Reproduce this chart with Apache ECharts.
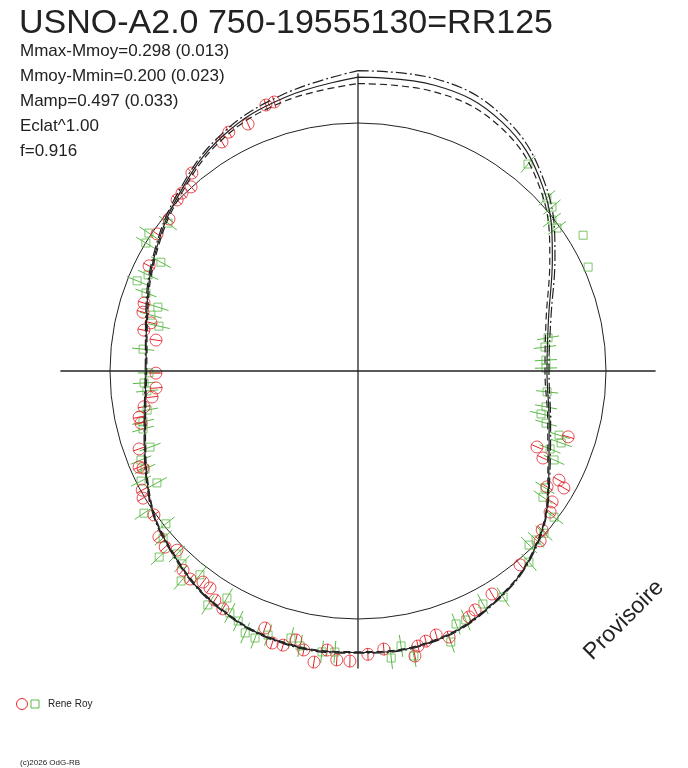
<!DOCTYPE html>
<html>
<head>
<meta charset="utf-8">
<script src="https://cdn.jsdelivr.net/npm/echarts@6/dist/echarts.min.js"></script>
<style>
  html, body { margin: 0; padding: 0; background: #fff; }
  #chart { width: 688px; height: 768px; }
</style>
</head>
<body>
<div id="chart"></div>
<script>
// phase in degrees (0 = top, clockwise), radius in units of the reference circle
const phases = [0, 15, 30, 45, 60, 75, 90, 105, 120, 135, 150, 165, 180,
  195, 210, 225, 240, 255, 270, 285, 300, 315, 330, 345, 360];
const curveSolid = [1.185, 1.193, 1.160, 1.053, 0.905, 0.795, 0.762, 0.798, 0.888, 1.010, 1.085, 1.132, 1.135,
  1.137, 1.108, 1.050, 0.975, 0.890, 0.855, 0.882, 0.945, 1.016, 1.093, 1.142, 1.185];
const curveDashed = [1.159, 1.167, 1.140, 1.039, 0.893, 0.785, 0.754, 0.792, 0.884, 1.007, 1.082, 1.129, 1.132,
  1.134, 1.105, 1.047, 0.972, 0.887, 0.852, 0.878, 0.940, 1.009, 1.084, 1.128, 1.159];
const curveDashDot = [1.211, 1.219, 1.180, 1.067, 0.917, 0.805, 0.770, 0.804, 0.892, 1.013, 1.088, 1.135, 1.138,
  1.140, 1.111, 1.053, 0.978, 0.893, 0.858, 0.886, 0.950, 1.023, 1.102, 1.156, 1.211];
const refCircle = 1.0;
const crossHalf = 1.2;

// [phase, radius]
const redPoints = [
  [340.9, 1.135], [342.7, 1.136], [336.0, 1.090], [331.6, 1.095], [329.3, 1.074], [320.0, 1.042],
  [317.8, 1.002], [315.3, 1.009], [313.4, 1.004], [308.8, 0.978], [304.3, 0.981], [296.7, 0.943],
  [287.6, 0.905], [285.3, 0.899], [283.1, 0.857], [280.8, 0.879], [278.7, 0.824], [269.4, 0.815],
  [265.2, 0.817], [262.8, 0.837], [260.5, 0.875], [258.1, 0.902], [256.5, 0.900], [250.4, 0.937],
  [246.3, 0.964], [245.7, 0.951], [241.1, 0.994], [239.4, 1.007], [234.8, 1.007], [230.2, 1.045],
  [227.6, 1.053], [225.3, 1.027], [221.3, 1.069], [218.9, 1.078], [216.3, 1.056], [214.3, 1.059],
  [212.0, 1.089], [209.6, 1.103], [199.9, 1.102], [197.5, 1.150], [195.3, 1.146], [193.0, 1.113],
  [191.0, 1.146], [188.6, 1.187], [186.3, 1.132], [184.2, 1.168], [181.6, 1.170], [178.0, 1.143],
  [174.7, 1.126], [168.7, 1.172], [167.7, 1.135], [165.9, 1.123], [163.5, 1.110], [161.1, 1.134],
  [155.7, 1.088], [153.9, 1.073], [149.0, 1.049], [140.1, 1.019], [133.0, 1.004], [130.8, 0.981],
  [126.3, 0.961], [124.0, 0.944], [121.5, 0.894], [119.6, 0.955], [118.5, 0.922], [115.2, 0.824],
  [113.0, 0.784], [107.4, 0.888]
];
const greenPoints = [
  [39.4, 1.080], [47.5, 1.033], [49.8, 1.024], [52.1, 0.991], [54.3, 0.988],
  [80.1, 0.778], [82.7, 0.760], [86.7, 0.759], [89.1, 0.758], [96.3, 0.767], [100.8, 0.772],
  [103.2, 0.758], [105.5, 0.787], [107.7, 0.851], [109.5, 0.869], [112.1, 0.836], [114.4, 0.868],
  [122.0, 0.889], [124.3, 0.903], [126.7, 0.986], [131.1, 0.995], [133.5, 0.990], [135.5, 0.984],
  [138.2, 1.034], [147.3, 1.083], [151.8, 1.066], [156.6, 1.094], [158.8, 1.094], [161.1, 1.155],
  [168.9, 1.171], [171.1, 1.122], [173.4, 1.165], [184.7, 1.137], [187.3, 1.142], [191.9, 1.133],
  [194.1, 1.110], [198.8, 1.125], [201.1, 1.154], [203.3, 1.150], [205.6, 1.118], [207.9, 1.104],
  [210.0, 1.057], [212.7, 1.121], [217.8, 1.040], [220.1, 1.107], [222.4, 1.053], [224.7, 1.038],
  [226.9, 1.098], [229.4, 1.035], [231.5, 0.990], [236.4, 1.036], [240.9, 0.928], [243.1, 0.981],
  [245.3, 0.945], [247.7, 0.946], [249.9, 0.893], [254.9, 0.898], [256.7, 0.891], [259.5, 0.865],
  [264.6, 0.855], [266.8, 0.864], [269.5, 0.843], [275.8, 0.871], [282.7, 0.823], [285.1, 0.865],
  [287.7, 0.847], [290.2, 0.911], [292.2, 0.962], [294.6, 0.931], [298.9, 0.908], [301.1, 0.999],
  [303.4, 1.010], [307.9, 0.971]
];
// the two outliers drawn without error bar
const greenNoErr = [[58.9, 1.060], [65.7, 1.018]];
const redErr = 0.025;
const greenErr = 0.045;

const statLines = [
  'Mmax-Mmoy=0.298 (0.013)',
  'Mmoy-Mmin=0.200 (0.023)',
  'Mamp=0.497 (0.033)',
  'Eclat^1.00',
  'f=0.916'
];

const RED = '#e3262b';
const GREEN = '#5cb847';
const INK = '#222';
const FONT = 'Arial, "Liberation Sans", sans-serif';

const toPolar = (arr) => arr.map((r, i) => [r, phases[i]]);
const flip = (pts) => pts.map(p => [p[1], p[0]]);

// radial error bar drawn in the polar system
const errorBar = (color, err) => (params, api) => {
  const r = api.value(0);
  const p = api.value(1);
  const a = api.coord([r - err, p]);
  const b = api.coord([r + err, p]);
  return {
    type: 'line',
    shape: { x1: a[0], y1: a[1], x2: b[0], y2: b[1] },
    style: { stroke: color, lineWidth: 1 }
  };
};

const curveLine = (name, values, type) => ({
  name,
  type: 'line',
  coordinateSystem: 'polar',
  data: toPolar(values),
  smooth: 0.4,
  symbol: 'none',
  clip: false,
  silent: true,
  lineStyle: { color: INK, width: 1.2, type }
});

// straight axis line through the centre
const crossLine = (p0, p1) => ({
  type: 'line',
  coordinateSystem: 'polar',
  data: [[crossHalf, p0], [crossHalf, p1]],
  symbol: 'none',
  clip: false,
  silent: true,
  lineStyle: { color: INK, width: 1.3 }
});

const chart = echarts.init(document.getElementById('chart'), null, { renderer: 'canvas' });

const graphics = [
  {
    type: 'text', left: 19, top: 7,
    style: { text: 'USNO-A2.0 750-19555130=RR125', font: '34px ' + FONT, fill: INK }
  },
  ...statLines.map((t, i) => ({
    type: 'text', x: 20, y: 51 + i * 25,
    style: { text: t, font: '17px ' + FONT, fill: INK, verticalAlign: 'middle' }
  })),
  {
    type: 'text', x: 624, y: 620, rotation: Math.PI / 4,
    style: { text: 'Provisoire', font: '23px ' + FONT, fill: INK, align: 'center', verticalAlign: 'middle' }
  },
  {
    type: 'circle', shape: { cx: 22, cy: 704, r: 5.5 },
    style: { fill: 'none', stroke: RED, lineWidth: 1 }
  },
  {
    type: 'rect', shape: { x: 31, y: 700, width: 8, height: 8 },
    style: { fill: 'none', stroke: GREEN, lineWidth: 1 }
  },
  {
    type: 'text', x: 48, y: 704,
    style: { text: 'Rene Roy', font: '10px ' + FONT, fill: INK, verticalAlign: 'middle' }
  },
  {
    type: 'text', x: 20, y: 763,
    style: { text: '(c)2026 OdG-RB', font: '8px ' + FONT, fill: INK, verticalAlign: 'middle' }
  }
];

const option = {
  backgroundColor: '#fff',
  animation: false,
  polar: { center: [358, 371], radius: 1.3 * 248 },
  angleAxis: {
    type: 'value', min: 0, max: 360,
    startAngle: 90, clockwise: true,
    axisLine: { show: false }, axisTick: { show: false }, axisLabel: { show: false },
    splitLine: { show: false }
  },
  radiusAxis: {
    type: 'value', min: 0, max: 1.3, interval: 1,
    axisLine: { show: false }, axisTick: { show: false }, axisLabel: { show: false },
    // only the r = 1 reference circle is visible
    splitLine: { show: true, lineStyle: { color: ['rgba(0,0,0,0)', INK, 'rgba(0,0,0,0)'], width: 1 } }
  },
  graphic: graphics,
  series: [
    crossLine(0, 180),
    crossLine(90, 270),
    curveLine('dashdot', curveDashDot, [11, 3, 2, 3]),
    curveLine('model', curveSolid, 'solid'),
    curveLine('dashed', curveDashed, [7, 4]),
    {
      type: 'custom', coordinateSystem: 'polar', silent: true,
      data: flip(greenPoints),
      renderItem: errorBar(GREEN, greenErr)
    },
    {
      type: 'custom', coordinateSystem: 'polar', silent: true,
      data: flip(redPoints),
      renderItem: errorBar(RED, redErr)
    },
    {
      name: 'Rene Roy (V)',
      type: 'scatter', coordinateSystem: 'polar', silent: true,
      symbol: 'rect', symbolSize: 8,
      data: flip(greenPoints.concat(greenNoErr)),
      itemStyle: { color: 'rgba(0,0,0,0)', borderColor: GREEN, borderWidth: 1 }
    },
    {
      name: 'Rene Roy (R)',
      type: 'scatter', coordinateSystem: 'polar', silent: true,
      symbol: 'circle', symbolSize: 12,
      data: flip(redPoints),
      itemStyle: { color: 'rgba(0,0,0,0)', borderColor: RED, borderWidth: 1 }
    }
  ]
};

chart.setOption(option);
</script>
</body>
</html>
